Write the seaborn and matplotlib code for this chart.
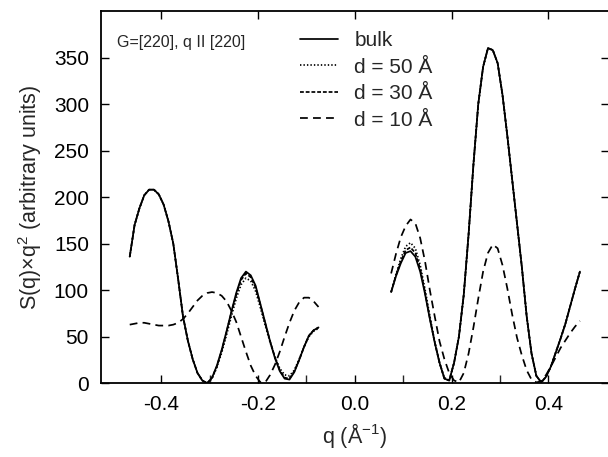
import pandas as pd
import matplotlib
matplotlib.use("Agg")
import matplotlib.pyplot as plt
import seaborn as sns

# q grids of the two branches (1/Angstrom)
Q_LEFT = [-0.465, -0.455, -0.445, -0.435, -0.425, -0.415, -0.405, -0.395, -0.385, -0.375,
          -0.365, -0.355, -0.345, -0.335, -0.325, -0.315, -0.305, -0.295, -0.285, -0.275,
          -0.265, -0.255, -0.245, -0.235, -0.225, -0.215, -0.205, -0.195, -0.185, -0.175,
          -0.165, -0.155, -0.145, -0.135, -0.125, -0.115, -0.105, -0.095, -0.085, -0.075]
Q_RIGHT = [0.075, 0.085, 0.095, 0.105, 0.115, 0.125, 0.135, 0.145, 0.155, 0.165,
           0.175, 0.185, 0.195, 0.205, 0.215, 0.225, 0.235, 0.245, 0.255, 0.265,
           0.275, 0.285, 0.295, 0.305, 0.315, 0.325, 0.335, 0.345, 0.355, 0.365,
           0.375, 0.385, 0.395, 0.405, 0.415, 0.425, 0.435, 0.445, 0.455, 0.465]

# S(q) x q^2
BULK_LEFT = [136, 170, 188, 202, 208, 208, 203, 192, 174, 150, 112, 72, 46, 26, 11, 3, 0, 6, 19, 36,
             56, 77, 97, 113, 120, 116, 105, 85, 65, 45, 27, 13, 5, 4, 12, 25, 39, 51, 57, 60]
D50_LEFT = [136, 170, 188, 202, 208, 208, 203, 192, 174, 150, 112, 72, 46, 26, 11, 3, 0, 5, 17, 33,
            52, 72, 91, 106, 113, 110, 99, 81, 62, 44, 28, 16, 9, 8, 14, 26, 39, 50, 56, 59]
D30_LEFT = [136, 170, 188, 202, 208, 208, 203, 192, 174, 150, 112, 72, 46, 26, 11, 3, 0, 6, 18, 35,
            55, 76, 95, 111, 118, 114, 103, 84, 64, 45, 28, 14, 6, 5, 13, 25, 39, 51, 57, 60]
D10_LEFT = [63, 64, 65, 65, 64, 63, 62, 62, 62, 63, 65, 69, 75, 82, 89, 94, 97, 98, 97, 94,
            88, 78, 66, 50, 34, 19, 8, 1, 1, 9, 20, 34, 50, 65, 78, 87, 92, 92, 88, 82]

BULK_RIGHT = [98, 115, 129, 140, 142, 136, 120, 96, 69, 44, 22, 5, 3, 22, 50, 95, 160, 235, 300, 340,
              360, 358, 344, 310, 266, 219, 172, 125, 72, 32, 8, 1, 7, 18, 33, 48, 64, 83, 102, 120]
D50_RIGHT = [98, 117, 134, 147, 151, 145, 127, 101, 72, 45, 22, 6, 3, 22, 50, 95, 160, 235, 300, 340,
             360, 358, 344, 310, 266, 219, 172, 125, 72, 32, 8, 1, 7, 18, 33, 48, 64, 83, 102, 120]
D30_RIGHT = [98, 116, 131, 143, 146, 140, 123, 98, 70, 44, 22, 5, 3, 22, 50, 95, 160, 235, 300, 340,
             360, 358, 344, 310, 266, 219, 172, 125, 72, 32, 8, 1, 7, 18, 33, 48, 64, 83, 102, 120]
D10_RIGHT = [118, 139, 157, 169, 176, 172, 156, 131, 100, 72, 45, 26, 11, 3, 1, 11, 32, 60, 91, 120,
             140, 149, 145, 127, 102, 74, 49, 30, 14, 4, 1, 2, 9, 18, 28, 38, 46, 54, 61, 67]

LABELS = ["bulk", "d = 50 Å", "d = 30 Å", "d = 10 Å"]
DASHES = {"bulk": "", "d = 50 Å": (0.8, 1.2), "d = 30 Å": (2.2, 1.1), "d = 10 Å": (4.5, 3.0)}


def build_frame():
    series = {
        "bulk": (BULK_LEFT, BULK_RIGHT),
        "d = 50 Å": (D50_LEFT, D50_RIGHT),
        "d = 30 Å": (D30_LEFT, D30_RIGHT),
        "d = 10 Å": (D10_LEFT, D10_RIGHT),
    }
    parts = []
    for name, (left, right) in series.items():
        parts.append(pd.DataFrame({"q": Q_LEFT, "S": left, "sample": name, "seg": "L"}))
        parts.append(pd.DataFrame({"q": Q_RIGHT, "S": right, "sample": name, "seg": "R"}))
    return pd.concat(parts, ignore_index=True)


def main():
    sns.set_theme(style="ticks")
    plt.rcParams["font.family"] = ["Liberation Sans", "DejaVu Sans"]
    plt.rcParams["mathtext.fontset"] = "custom"
    plt.rcParams["mathtext.rm"] = "Liberation Sans"
    plt.rcParams["mathtext.it"] = "Liberation Sans:italic"

    df = build_frame()
    fig = plt.figure(figsize=(6.08, 4.57), dpi=100)
    ax = fig.add_axes([0.1656, 0.1613, 0.836, 0.8147])

    sns.lineplot(data=df, x="q", y="S", style="sample", style_order=LABELS,
                 units="seg", estimator=None, sort=False, dashes=DASHES,
                 color="black", linewidth=1.25, ax=ax)

    ax.set_xlim(-0.525, 0.525)
    ax.set_ylim(0, 400)
    ax.set_xticks([-0.4, -0.2, 0.0, 0.2, 0.4])
    ax.set_xticklabels(["-0.4", "-0.2", "0.0", "0.2", "0.4"])
    ax.set_xticks([-0.3, -0.1, 0.1, 0.3], minor=True)
    ax.set_yticks(range(0, 351, 50))
    ax.tick_params(which="major", direction="in", length=6, width=1.0,
                   top=True, right=True, labelsize=15, colors="black", pad=8.5)
    ax.tick_params(which="minor", direction="in", length=6, width=1.0,
                   top=False, bottom=True, right=False)
    for sp in ax.spines.values():
        sp.set_linewidth(1.3)
        sp.set_color("black")

    ax.set_xlabel("q (Å$^{-1}$)", fontsize=15.5, labelpad=5)
    ax.set_ylabel("S(q)×q$^2$ (arbitrary units)", fontsize=15.5, labelpad=7)

    ax.text(0.032, 0.914, "G=[220], q II [220]", transform=ax.transAxes,
            fontsize=11.5, va="center", ha="left")

    handles, labels = ax.get_legend_handles_labels()
    ax.legend(handles, labels, loc="upper left", bbox_to_anchor=(0.376, 0.968),
              frameon=False, fontsize=15, handlelength=1.8, handletextpad=0.8,
              labelspacing=0.36, borderaxespad=0)

    fig.savefig("out.png", dpi=100)


if __name__ == "__main__":
    main()
